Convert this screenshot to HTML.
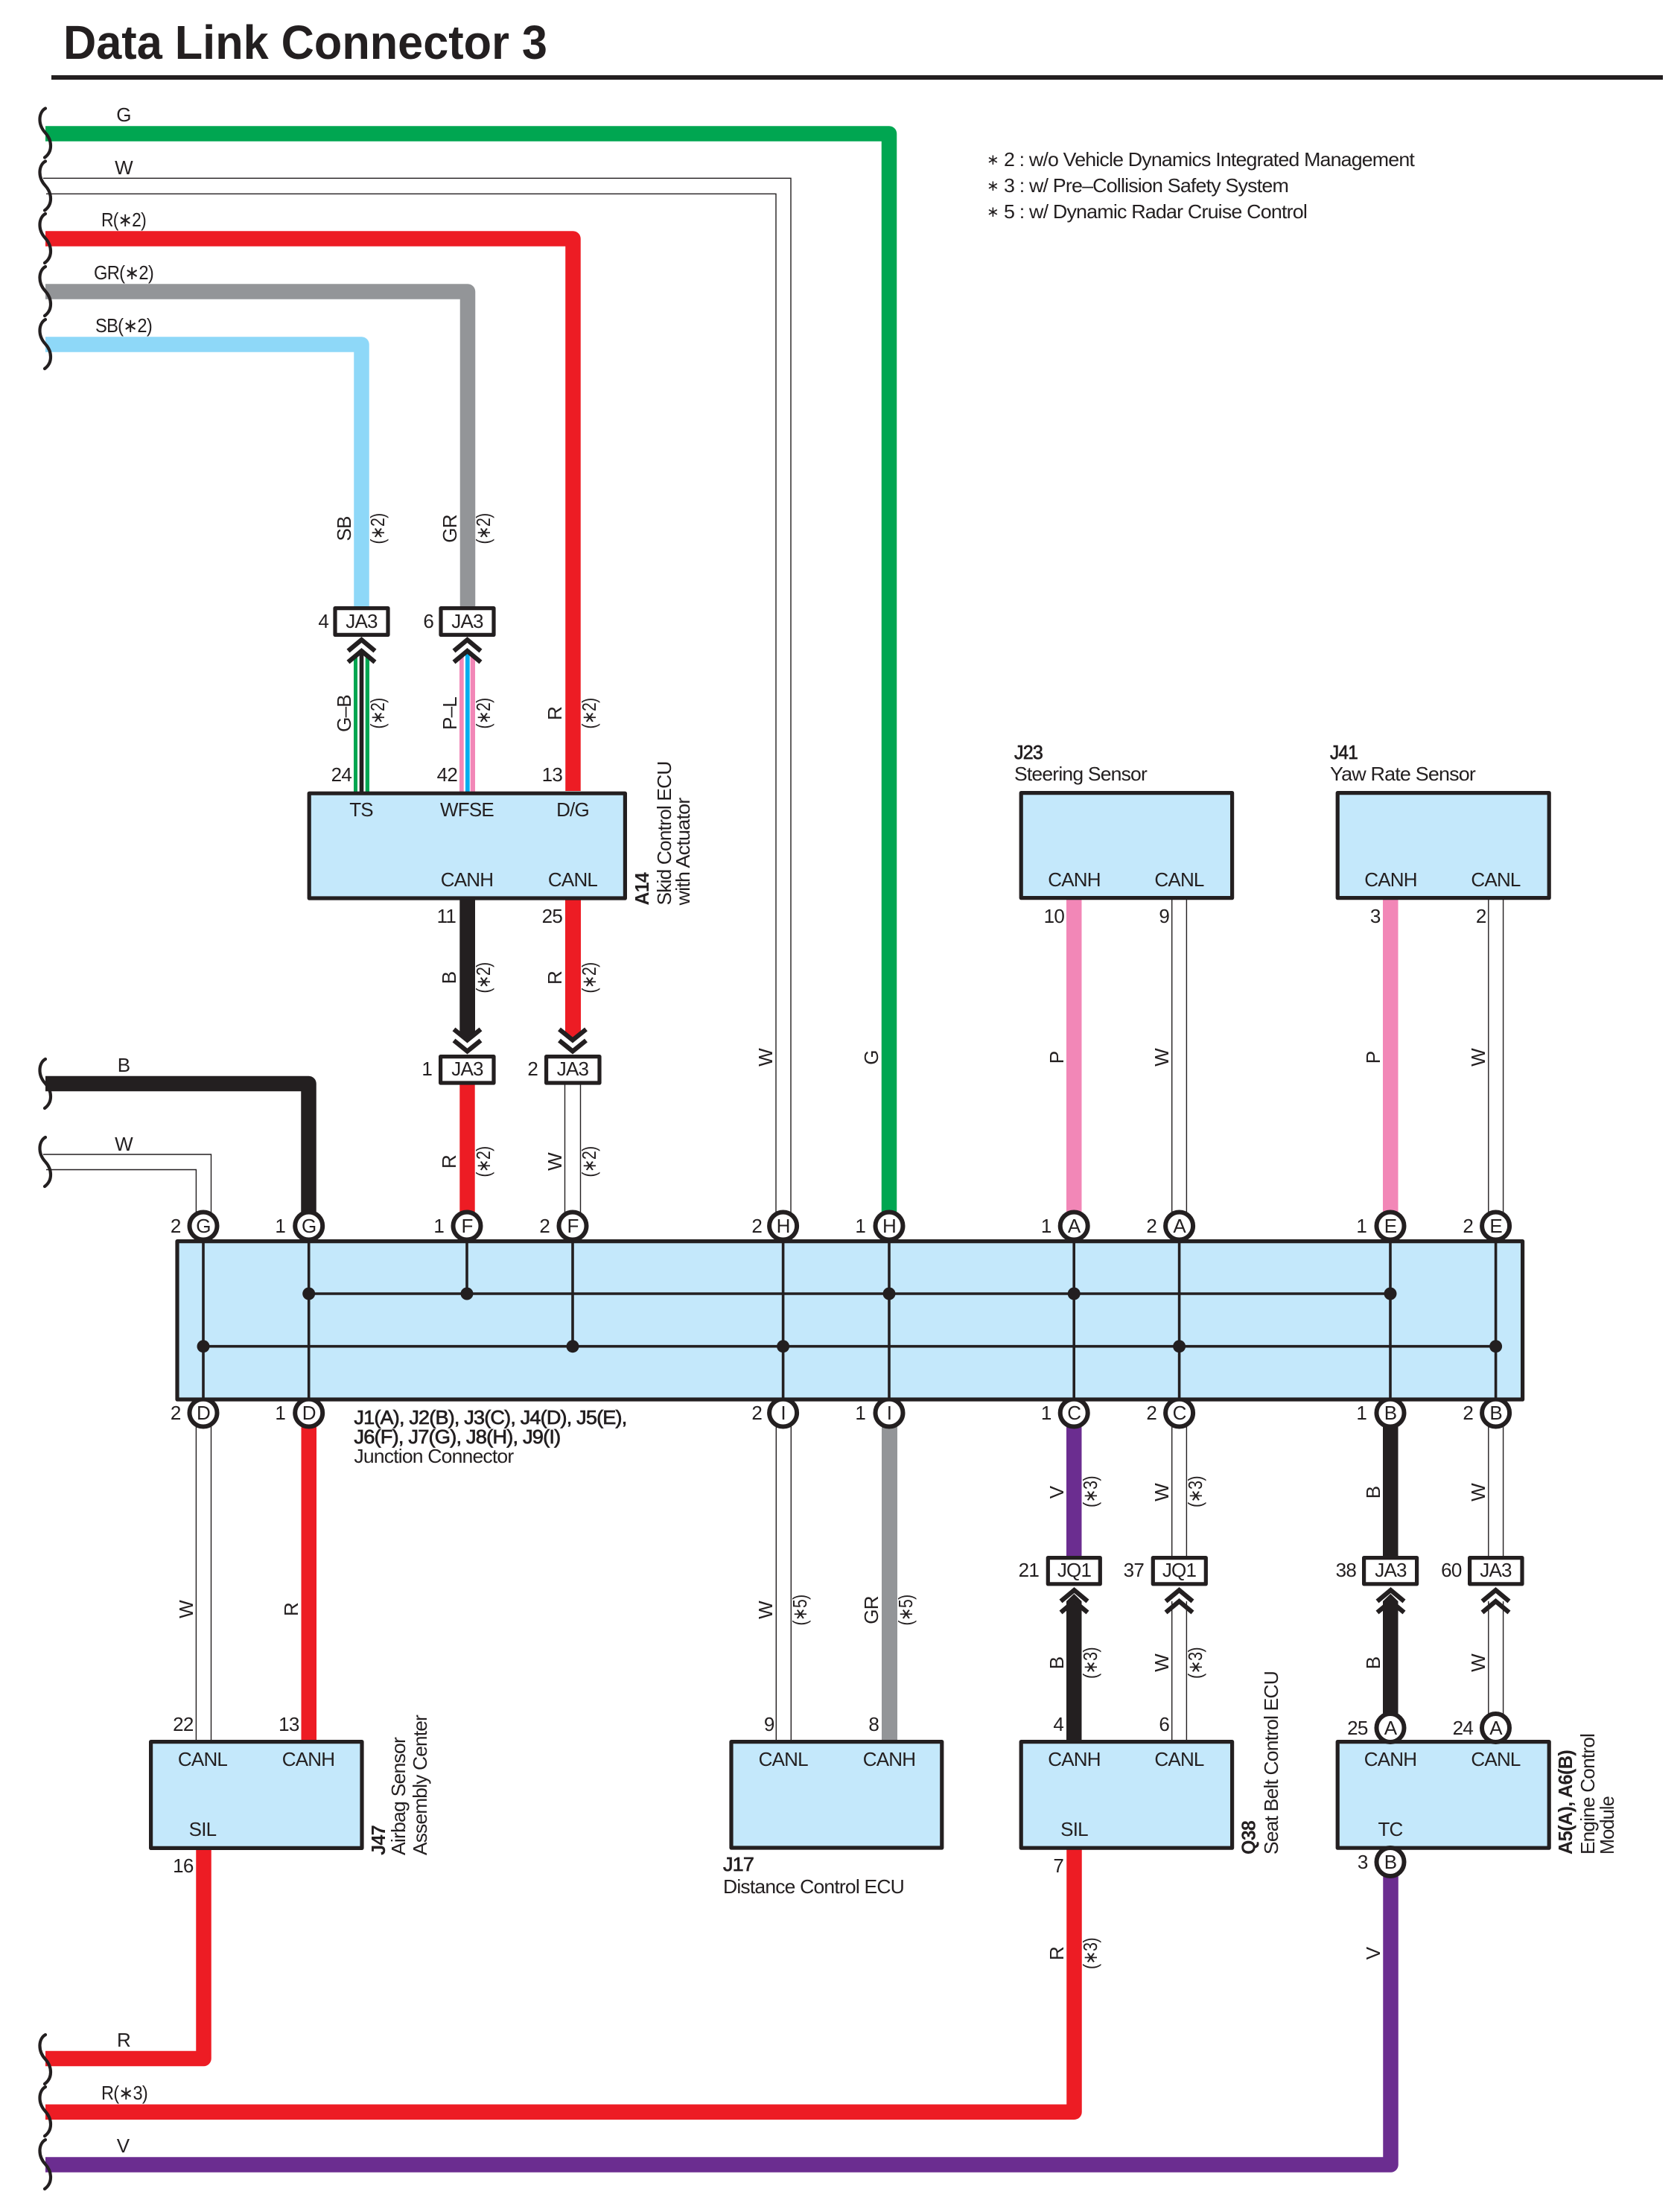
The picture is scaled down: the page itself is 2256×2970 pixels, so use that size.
<!DOCTYPE html>
<html><head><meta charset="utf-8"><title>Data Link Connector 3</title>
<style>
html,body{margin:0;padding:0;background:#fff}
svg{display:block}
text{font-family:"Liberation Sans",Arial,sans-serif;font-size:26px;letter-spacing:-.8px;fill:#231f20}
.m{text-anchor:middle}.e{text-anchor:end}
.b{font-weight:bold}
.s{stroke:#231f20;stroke-width:.7px}
.w{fill:none;stroke-width:20.5;stroke-linejoin:round}
.t{fill:none;stroke:#231f20;stroke-width:1.4;stroke-linejoin:miter}
.box{fill:#c4e8fb;stroke:#231f20;stroke-width:5.2;stroke-linejoin:round}
.tag{fill:#fff;stroke:#231f20;stroke-width:5.2;stroke-linejoin:round}
.c{fill:#fff;stroke:#231f20;stroke-width:6}
.i{fill:none;stroke:#231f20;stroke-width:3.6}
.d{fill:#231f20}
.ch{fill:none;stroke:#231f20;stroke-width:6.2;stroke-linejoin:miter}
.br{fill:none;stroke:#231f20;stroke-width:4.2;stroke-linecap:round}
.a{font-size:20px;letter-spacing:0}
</style></head><body>
<svg xmlns="http://www.w3.org/2000/svg" width="2256" height="2970" viewBox="0 0 2256 2970">
<rect width="2256" height="2970" fill="#fff"/>

<text x="85" y="79" class="b" style="font-size:64px;letter-spacing:0" textLength="650" lengthAdjust="spacingAndGlyphs">Data Link Connector 3</text>
<rect x="69" y="101" width="2164" height="6" fill="#231f20"/>

<!-- Legend -->
<text x="1325" y="221" class="a">∗</text><text x="1348" y="223" textLength="551" lengthAdjust="spacingAndGlyphs">2 : w/o Vehicle Dynamics Integrated Management</text>
<text x="1325" y="256" class="a">∗</text><text x="1348" y="258" textLength="382" lengthAdjust="spacingAndGlyphs">3 : w/ Pre–Collision Safety System</text>
<text x="1325" y="291" class="a">∗</text><text x="1348" y="293" textLength="407" lengthAdjust="spacingAndGlyphs">5 : w/ Dynamic Radar Cruise Control</text>

<!-- Wires: long -->
<path class="w" stroke="#00a651" d="M61 179.5H1194V1630"/>
<path class="w" stroke="#ed1c24" d="M61 320.5H769.5V1062"/>
<path class="w" stroke="#939598" d="M61 391.5H628V816"/>
<path class="w" stroke="#8ed8f8" d="M61 462.5H485.5V816"/>
<path class="t" d="M58 239.3H1062V1630M62 260.3H1042V1630"/>
<path class="w" stroke="#231f20" d="M61 1455H414.5V1630"/>
<path class="t" d="M58 1550H283.5V1630M62 1570.5H263.4V1630"/>
<!-- A14 to JA3 upper -->
<rect x="475" y="880" width="21" height="185" fill="#00a651"/>
<rect x="480" y="876" width="10.7" height="189" fill="#fff"/>
<rect x="482.7" y="872" width="5.6" height="193" fill="#231f20"/>
<rect x="617" y="880" width="21" height="185" fill="#f287b7"/>
<rect x="622.7" y="876" width="9" height="189" fill="#fff"/>
<rect x="625" y="872" width="5.7" height="193" fill="#00aeef"/>
<!-- A14 bottom -->
<polygon points="617.3,1206 638,1206 638,1386 627.6,1396 617.3,1386" fill="#231f20"/>
<polygon points="759,1206 780,1206 780,1386 769.5,1396 759,1386" fill="#ed1c24"/>
<rect x="617.3" y="1454" width="20.4" height="175" fill="#ed1c24"/>
<path class="t" d="M758.5 1455V1630M779.5 1455V1630"/>
<!-- J23 J41 to bus -->
<rect x="1432" y="1206" width="20.5" height="424" fill="#f287b7"/>
<path class="t" d="M1573.7 1206V1630M1593.4 1206V1630"/>
<rect x="1857" y="1206" width="20.5" height="424" fill="#f287b7"/>
<path class="t" d="M1998.8 1206V1630M2018.6 1206V1630"/>
<!-- bus bottom down -->
<path class="t" d="M263.4 1915V2338M283.5 1915V2338"/>
<rect x="404.5" y="1915" width="20.5" height="423" fill="#ed1c24"/>
<path class="t" d="M1042.3 1915V2338M1062.3 1915V2338"/>
<rect x="1184" y="1915" width="21" height="423" fill="#939598"/>
<rect x="1432" y="1915" width="20.5" height="176" fill="#6b2d90"/>
<path class="t" d="M1573.7 1915V2091M1593.4 1915V2091"/>
<rect x="1857" y="1915" width="20.5" height="176" fill="#231f20"/>
<path class="t" d="M1998.8 1915V2091M2018.6 1915V2091"/>
<!-- below JQ1/JA3 -->
<polygon points="1442.3,2140 1452.5,2150 1452.5,2338 1432,2338 1432,2150" fill="#231f20"/>
<path class="t" d="M1573.7 2150V2338M1593.4 2150V2338"/>
<polygon points="1867.3,2140 1877.5,2150 1877.5,2305 1857,2305 1857,2150" fill="#231f20"/>
<path class="t" d="M1998.8 2150V2305M2018.6 2150V2305"/>
<!-- bottom long -->
<path class="w" stroke="#ed1c24" d="M273.5 2482V2764H61"/>
<path class="w" stroke="#ed1c24" d="M61 2835.7H1442.5V2482"/>
<path class="w" stroke="#6b2d90" d="M61 2906.5H1867.5V2516"/>

<!-- Break marks -->
<g class="br">
<path transform="translate(0,178.5)" d="M61-33C52-28 50-12 61 0C70 10 71 25 60 33"/>
<path transform="translate(0,249.5)" d="M61-33C52-28 50-12 61 0C70 10 71 25 60 33"/>
<path transform="translate(0,320)" d="M61-33C52-28 50-12 61 0C70 10 71 25 60 33"/>
<path transform="translate(0,391)" d="M61-33C52-28 50-12 61 0C70 10 71 25 60 33"/>
<path transform="translate(0,462)" d="M61-33C52-28 50-12 61 0C70 10 71 25 60 33"/>
<path transform="translate(0,1455)" d="M61-33C52-28 50-12 61 0C70 10 71 25 60 33"/>
<path transform="translate(0,1560)" d="M61-33C52-28 50-12 61 0C70 10 71 25 60 33"/>
<path transform="translate(0,2765)" d="M61-33C52-28 50-12 61 0C70 10 71 25 60 33"/>
<path transform="translate(0,2835)" d="M61-33C52-28 50-12 61 0C70 10 71 25 60 33"/>
<path transform="translate(0,2906)" d="M61-33C52-28 50-12 61 0C70 10 71 25 60 33"/>
</g>

<!-- Left labels -->
<text x="166" y="163" class="m">G</text>
<text x="166" y="234" class="m">W</text>
<text x="166" y="304" class="m" textLength="60" lengthAdjust="spacingAndGlyphs">R(∗2)</text>
<text x="166" y="375" class="m" textLength="80" lengthAdjust="spacingAndGlyphs">GR(∗2)</text>
<text x="166" y="446" class="m" textLength="76" lengthAdjust="spacingAndGlyphs">SB(∗2)</text>
<text x="166" y="1439" class="m">B</text>
<text x="166" y="1545" class="m">W</text>
<text x="166" y="2748" class="m">R</text>
<text x="167" y="2819" class="m" textLength="62" lengthAdjust="spacingAndGlyphs">R(∗3)</text>
<text x="165" y="2890" class="m">V</text>

<!-- Rotated wire labels -->
<g class="m">
<text class="m" transform="translate(471,710) rotate(-90)">SB</text>
<text class="m" transform="translate(516,710) rotate(-90)" textLength="41" lengthAdjust="spacingAndGlyphs">(∗2)</text>
<text class="m" transform="translate(613,710) rotate(-90)">GR</text>
<text class="m" transform="translate(658,710) rotate(-90)" textLength="41" lengthAdjust="spacingAndGlyphs">(∗2)</text>
<text class="m" transform="translate(471,958) rotate(-90)">G–B</text>
<text class="m" transform="translate(516,958) rotate(-90)" textLength="41" lengthAdjust="spacingAndGlyphs">(∗2)</text>
<text class="m" transform="translate(613,958) rotate(-90)">P–L</text>
<text class="m" transform="translate(658,958) rotate(-90)" textLength="41" lengthAdjust="spacingAndGlyphs">(∗2)</text>
<text class="m" transform="translate(754,958) rotate(-90)">R</text>
<text class="m" transform="translate(800,958) rotate(-90)" textLength="41" lengthAdjust="spacingAndGlyphs">(∗2)</text>
<text class="m" transform="translate(612,1313) rotate(-90)">B</text>
<text class="m" transform="translate(658,1313) rotate(-90)" textLength="41" lengthAdjust="spacingAndGlyphs">(∗2)</text>
<text class="m" transform="translate(754,1313) rotate(-90)">R</text>
<text class="m" transform="translate(800,1313) rotate(-90)" textLength="41" lengthAdjust="spacingAndGlyphs">(∗2)</text>
<text class="m" transform="translate(612,1560) rotate(-90)">R</text>
<text class="m" transform="translate(658,1560) rotate(-90)" textLength="41" lengthAdjust="spacingAndGlyphs">(∗2)</text>
<text class="m" transform="translate(754,1560) rotate(-90)">W</text>
<text class="m" transform="translate(800,1560) rotate(-90)" textLength="41" lengthAdjust="spacingAndGlyphs">(∗2)</text>
<text class="m" transform="translate(1037,1420) rotate(-90)">W</text>
<text class="m" transform="translate(1179,1420) rotate(-90)">G</text>
<text class="m" transform="translate(1428,1420) rotate(-90)">P</text>
<text class="m" transform="translate(1569,1420) rotate(-90)">W</text>
<text class="m" transform="translate(1853,1420) rotate(-90)">P</text>
<text class="m" transform="translate(1994,1420) rotate(-90)">W</text>
<text class="m" transform="translate(1428,2004) rotate(-90)">V</text>
<text class="m" transform="translate(1473,2003) rotate(-90)" textLength="42" lengthAdjust="spacingAndGlyphs">(∗3)</text>
<text class="m" transform="translate(1569,2004) rotate(-90)">W</text>
<text class="m" transform="translate(1614,2003) rotate(-90)" textLength="42" lengthAdjust="spacingAndGlyphs">(∗3)</text>
<text class="m" transform="translate(1853,2004) rotate(-90)">B</text>
<text class="m" transform="translate(1994,2004) rotate(-90)">W</text>
<text class="m" transform="translate(1428,2233) rotate(-90)">B</text>
<text class="m" transform="translate(1473,2233) rotate(-90)" textLength="42" lengthAdjust="spacingAndGlyphs">(∗3)</text>
<text class="m" transform="translate(1569,2233) rotate(-90)">W</text>
<text class="m" transform="translate(1614,2233) rotate(-90)" textLength="42" lengthAdjust="spacingAndGlyphs">(∗3)</text>
<text class="m" transform="translate(1853,2233) rotate(-90)">B</text>
<text class="m" transform="translate(1994,2233) rotate(-90)">W</text>
<text class="m" transform="translate(1037,2162) rotate(-90)">W</text>
<text class="m" transform="translate(1083,2162) rotate(-90)" textLength="41" lengthAdjust="spacingAndGlyphs">(∗5)</text>
<text class="m" transform="translate(1179,2162) rotate(-90)">GR</text>
<text class="m" transform="translate(1225,2162) rotate(-90)" textLength="41" lengthAdjust="spacingAndGlyphs">(∗5)</text>
<text class="m" transform="translate(259,2161) rotate(-90)">W</text>
<text class="m" transform="translate(400,2161) rotate(-90)">R</text>
<text class="m" transform="translate(1428,2623) rotate(-90)">R</text>
<text class="m" transform="translate(1473,2623) rotate(-90)" textLength="42" lengthAdjust="spacingAndGlyphs">(∗3)</text>
<text class="m" transform="translate(1853,2623) rotate(-90)">V</text>
</g>

<!-- Upper connector tags -->
<rect class="tag" x="450" y="816.6" width="71" height="35.8"/><text x="485.5" y="843" class="m">JA3</text><text x="441" y="843" class="e">4</text>
<rect class="tag" x="592" y="816.6" width="71" height="35.8"/><text x="627.5" y="843" class="m">JA3</text><text x="582" y="843" class="e">6</text>
<path class="ch" d="M467.5 874L485.5 859L503.5 874M467.5 889L485.5 874L503.5 889"/>
<path class="ch" d="M609.5 874L627.5 859L645.5 874M609.5 889L627.5 874L645.5 889"/>

<!-- Tags above bus -->
<path class="ch" d="M609.5 1382L627.5 1396.5L645.5 1382M609.5 1397L627.5 1411.5L645.5 1397"/>
<path class="ch" d="M751 1382L769 1396.5L787 1382M751 1397L769 1411.5L787 1397"/>
<rect class="tag" x="591.6" y="1418.6" width="71.4" height="35.4"/><text x="627.5" y="1444" class="m">JA3</text><text x="580" y="1444" class="e">1</text>
<rect class="tag" x="733.6" y="1418.6" width="71.4" height="35.4"/><text x="769" y="1444" class="m">JA3</text><text x="722" y="1444" class="e">2</text>

<!-- Tags below bus -->
<path class="ch" d="M1424.5 2150L1442.5 2135L1460.5 2150M1424.5 2165L1442.5 2150L1460.5 2165"/>
<path class="ch" d="M1565.5 2150L1583.5 2135L1601.5 2150M1565.5 2165L1583.5 2150L1601.5 2165"/>
<path class="ch" d="M1849.5 2150L1867.5 2135L1885.5 2150M1849.5 2165L1867.5 2150L1885.5 2165"/>
<path class="ch" d="M1990.5 2150L2008.5 2135L2026.5 2150M1990.5 2165L2008.5 2150L2026.5 2165"/>
<rect class="tag" x="1407.3" y="2091.6" width="70" height="35.2"/><text x="1442.5" y="2117" class="m">JQ1</text><text x="1395" y="2117" class="e">21</text>
<rect class="tag" x="1548.3" y="2091.6" width="71" height="35.2"/><text x="1583.5" y="2117" class="m">JQ1</text><text x="1536" y="2117" class="e">37</text>
<rect class="tag" x="1831.6" y="2091.6" width="71" height="35.2"/><text x="1867.5" y="2117" class="m">JA3</text><text x="1821" y="2117" class="e">38</text>
<rect class="tag" x="1973.6" y="2091.6" width="70.4" height="35.2"/><text x="2008.5" y="2117" class="m">JA3</text><text x="1962.5" y="2117" class="e">60</text>

<!-- Components -->
<rect class="box" x="415.2" y="1065.2" width="424.2" height="140.8"/>
<text x="485" y="1096" class="m">TS</text><text x="627" y="1096" class="m">WFSE</text><text x="769" y="1096" class="m">D/G</text>
<text x="627" y="1190" class="m">CANH</text><text x="769" y="1190" class="m">CANL</text>
<text x="472" y="1049" class="e">24</text><text x="614" y="1049" class="e">42</text><text x="755" y="1049" class="e">13</text>
<text x="612" y="1239" class="e">11</text><text x="755" y="1239" class="e">25</text>
<text class="b" transform="translate(871,1215.5) rotate(-90)" textLength="43.5" lengthAdjust="spacingAndGlyphs">A14</text>
<text transform="translate(901,1215.5) rotate(-90)" textLength="193" lengthAdjust="spacingAndGlyphs">Skid Control ECU</text>
<text transform="translate(926,1215.5) rotate(-90)" textLength="144" lengthAdjust="spacingAndGlyphs">with Actuator</text>

<rect class="box" x="1371.2" y="1064.6" width="283.4" height="141"/>
<text x="1442.5" y="1190" class="m">CANH</text><text x="1583.5" y="1190" class="m">CANL</text>
<text x="1429" y="1239" class="e">10</text><text x="1570" y="1239" class="e">9</text>
<text x="1362" y="1019" class="s" textLength="38" lengthAdjust="spacingAndGlyphs">J23</text>
<text x="1362" y="1048" textLength="178" lengthAdjust="spacingAndGlyphs">Steering Sensor</text>

<rect class="box" x="1796.2" y="1064.6" width="284" height="141"/>
<text x="1867.5" y="1190" class="m">CANH</text><text x="2008.5" y="1190" class="m">CANL</text>
<text x="1853.5" y="1239" class="e">3</text><text x="1995.5" y="1239" class="e">2</text>
<text x="1786" y="1019" class="s" textLength="37" lengthAdjust="spacingAndGlyphs">J41</text>
<text x="1786" y="1048" textLength="195" lengthAdjust="spacingAndGlyphs">Yaw Rate Sensor</text>

<rect class="box" x="202.6" y="2338.6" width="283.4" height="142.8"/>
<text x="272" y="2371" class="m">CANL</text><text x="414" y="2371" class="m">CANH</text><text x="272" y="2465" class="m">SIL</text>
<text x="259.5" y="2324" class="e">22</text><text x="401.5" y="2324" class="e">13</text><text x="259.5" y="2514" class="e">16</text>
<text class="b" transform="translate(517,2491) rotate(-90)" textLength="40" lengthAdjust="spacingAndGlyphs">J47</text>
<text transform="translate(544,2491) rotate(-90)" textLength="158" lengthAdjust="spacingAndGlyphs">Airbag Sensor</text>
<text transform="translate(573,2491) rotate(-90)" textLength="188" lengthAdjust="spacingAndGlyphs">Assembly Center</text>

<rect class="box" x="982" y="2338.6" width="282.8" height="142.4"/>
<text x="1051.7" y="2371" class="m">CANL</text><text x="1194" y="2371" class="m">CANH</text>
<text x="1039.5" y="2324" class="e">9</text><text x="1180" y="2324" class="e">8</text>
<text x="971" y="2512" class="s" textLength="41" lengthAdjust="spacingAndGlyphs">J17</text>
<text x="971" y="2542" textLength="243" lengthAdjust="spacingAndGlyphs">Distance Control ECU</text>

<rect class="box" x="1371.2" y="2338.6" width="283.4" height="142.6"/>
<text x="1442.5" y="2371" class="m">CANH</text><text x="1583.5" y="2371" class="m">CANL</text><text x="1442.5" y="2465" class="m">SIL</text>
<text x="1428" y="2324" class="e">4</text><text x="1570" y="2324" class="e">6</text><text x="1428" y="2514" class="e">7</text>
<text class="b" transform="translate(1685.5,2490) rotate(-90)" textLength="45" lengthAdjust="spacingAndGlyphs">Q38</text>
<text transform="translate(1716,2490) rotate(-90)" textLength="246" lengthAdjust="spacingAndGlyphs">Seat Belt Control ECU</text>

<rect class="box" x="1796.2" y="2338.6" width="284" height="142.6"/>
<text x="1867" y="2371" class="m">CANH</text><text x="2008.5" y="2371" class="m">CANL</text><text x="1867" y="2465" class="m">TC</text>
<text class="b" transform="translate(2111,2490) rotate(-90)" textLength="140" lengthAdjust="spacingAndGlyphs">A5(A), A6(B)</text>
<text transform="translate(2141,2490) rotate(-90)" textLength="162" lengthAdjust="spacingAndGlyphs">Engine Control</text>
<text transform="translate(2167,2490) rotate(-90)" textLength="78" lengthAdjust="spacingAndGlyphs">Module</text>
<ellipse class="c" cx="1867" cy="2320" rx="18.5" ry="19"/><text x="1867" y="2329" class="m">A</text><text x="1836.5" y="2329" class="e">25</text>
<ellipse class="c" cx="2008.5" cy="2320" rx="18.5" ry="19"/><text x="2008.5" y="2329" class="m">A</text><text x="1978" y="2329" class="e">24</text>
<ellipse class="c" cx="1867" cy="2500" rx="18.5" ry="19"/><text x="1867" y="2509" class="m">B</text><text x="1836.5" y="2509" class="e">3</text>

<!-- Junction connector circles -->
<g>
<circle class="c" cx="273" cy="1646" r="18.5"/><circle class="c" cx="414.7" cy="1646" r="18.5"/><circle class="c" cx="627" cy="1646" r="18.5"/><circle class="c" cx="769" cy="1646" r="18.5"/>
<circle class="c" cx="1051.6" cy="1646" r="18.5"/><circle class="c" cx="1194" cy="1646" r="18.5"/><circle class="c" cx="1442.2" cy="1646" r="18.5"/><circle class="c" cx="1583.6" cy="1646" r="18.5"/><circle class="c" cx="1867" cy="1646" r="18.5"/><circle class="c" cx="2008.6" cy="1646" r="18.5"/>
<circle class="c" cx="273" cy="1897" r="18.5"/><circle class="c" cx="414.7" cy="1897" r="18.5"/><circle class="c" cx="1051.6" cy="1897" r="18.5"/><circle class="c" cx="1194" cy="1897" r="18.5"/><circle class="c" cx="1442.2" cy="1897" r="18.5"/><circle class="c" cx="1583.6" cy="1897" r="18.5"/><circle class="c" cx="1867" cy="1897" r="18.5"/><circle class="c" cx="2008.6" cy="1897" r="18.5"/>
</g>
<text x="273" y="1655" class="m">G</text><text x="414.7" y="1655" class="m">G</text><text x="627" y="1655" class="m">F</text><text x="769" y="1655" class="m">F</text>
<text x="1051.6" y="1655" class="m">H</text><text x="1194" y="1655" class="m">H</text><text x="1442.2" y="1655" class="m">A</text><text x="1583.6" y="1655" class="m">A</text><text x="1867" y="1655" class="m">E</text><text x="2008.6" y="1655" class="m">E</text>
<text x="273" y="1906" class="m">D</text><text x="414.7" y="1906" class="m">D</text><text x="1051.6" y="1906" class="m">I</text><text x="1194" y="1906" class="m">I</text><text x="1442.2" y="1906" class="m">C</text><text x="1583.6" y="1906" class="m">C</text><text x="1867" y="1906" class="m">B</text><text x="2008.6" y="1906" class="m">B</text>

<text x="242.5" y="1655" class="e">2</text><text x="383" y="1655" class="e">1</text><text x="596" y="1655" class="e">1</text><text x="738" y="1655" class="e">2</text>
<text x="1023" y="1655" class="e">2</text><text x="1162" y="1655" class="e">1</text><text x="1411.5" y="1655" class="e">1</text><text x="1553" y="1655" class="e">2</text><text x="1835" y="1655" class="e">1</text><text x="1978" y="1655" class="e">2</text>
<text x="242.5" y="1906" class="e">2</text><text x="383" y="1906" class="e">1</text>
<text x="1023" y="1906" class="e">2</text><text x="1162" y="1906" class="e">1</text><text x="1411.5" y="1906" class="e">1</text><text x="1553" y="1906" class="e">2</text><text x="1835" y="1906" class="e">1</text><text x="1978" y="1906" class="e">2</text>

<!-- Junction block -->
<rect class="box" x="238" y="1666.6" width="1806.6" height="212.4"/>
<path class="i" d="M273 1667V1878M414.7 1667V1878M1051.6 1667V1878M1194 1667V1878M1442.2 1667V1878M1583.6 1667V1878M1867 1667V1878M2008.6 1667V1878M627 1667V1737M769 1667V1807.7M414.7 1737H1867M273 1807.7H2008.6"/>
<g class="d">
<ellipse cx="414.7" cy="1737" rx="8.5" ry="8.5"/><ellipse cx="627" cy="1737" rx="8.5" ry="8.5"/><ellipse cx="1194" cy="1737" rx="8.5" ry="8.5"/><ellipse cx="1442.2" cy="1737" rx="8.5" ry="8.5"/><ellipse cx="1867" cy="1737" rx="8.5" ry="8.5"/>
<ellipse cx="273" cy="1807.7" rx="8.5" ry="8.5"/><ellipse cx="769" cy="1807.7" rx="8.5" ry="8.5"/><ellipse cx="1051.6" cy="1807.7" rx="8.5" ry="8.5"/><ellipse cx="1583.6" cy="1807.7" rx="8.5" ry="8.5"/><ellipse cx="2008.6" cy="1807.7" rx="8.5" ry="8.5"/>
</g>
<text x="475.4" y="1912" class="s" textLength="366" lengthAdjust="spacingAndGlyphs">J1(A), J2(B), J3(C), J4(D), J5(E),</text>
<text x="475.4" y="1938" class="s" textLength="277" lengthAdjust="spacingAndGlyphs">J6(F), J7(G), J8(H), J9(I)</text>
<text x="475.4" y="1964" textLength="214" lengthAdjust="spacingAndGlyphs">Junction Connector</text>
</svg>
</body></html>
